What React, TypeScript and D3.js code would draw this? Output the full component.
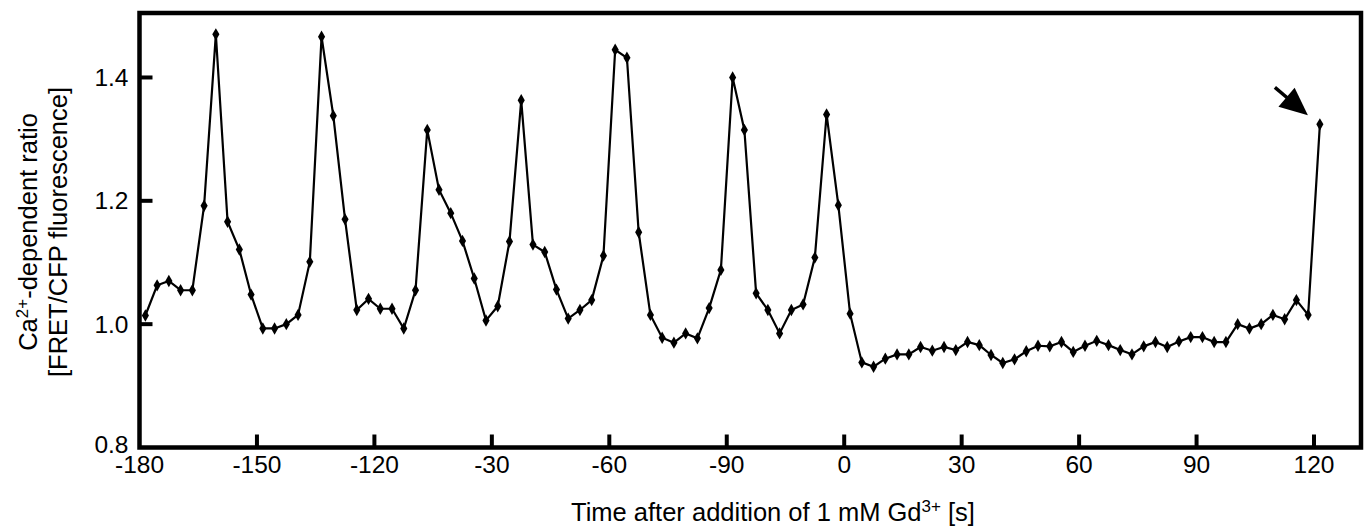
import React from "react"
import * as d3 from "d3"

// sample times (s), one reading every 3 s
const times = [
  -178.5, -175.5, -172.5, -169.5, -166.5, -163.5, -160.5, -157.5, -154.5, -151.5,
  -148.5, -145.5, -142.5, -139.5, -136.5, -133.5, -130.5, -127.5, -124.5, -121.5,
  -118.5, -115.5, -112.5, -109.5, -106.5, -103.5, -100.5, -97.5, -94.5, -91.5,
  -88.5, -85.5, -82.5, -79.5, -76.5, -73.5, -70.5, -67.5, -64.5, -61.5,
  -58.5, -55.5, -52.5, -49.5, -46.5, -43.5, -40.5, -37.5, -34.5, -31.5,
  -28.5, -25.5, -22.5, -19.5, -16.5, -13.5, -10.5, -7.5, -4.5, -1.5,
  1.5, 4.5, 7.5, 10.5, 13.5, 16.5, 19.5, 22.5, 25.5, 28.5,
  31.5, 34.5, 37.5, 40.5, 43.5, 46.5, 49.5, 52.5, 55.5, 58.5,
  61.5, 64.5, 67.5, 70.5, 73.5, 76.5, 79.5, 82.5, 85.5, 88.5,
  91.5, 94.5, 97.5, 100.5, 103.5, 106.5, 109.5, 112.5, 115.5, 118.5,
  121.5,
]

// FRET/CFP ratio
const ratios = [
  1.014, 1.063, 1.070, 1.055, 1.055, 1.192, 1.470, 1.166, 1.121, 1.048,
  0.993, 0.993, 1.000, 1.015, 1.101, 1.466, 1.338, 1.170, 1.023, 1.041,
  1.025, 1.025, 0.993, 1.055, 1.315, 1.218, 1.180, 1.135, 1.074, 1.006,
  1.029, 1.134, 1.363, 1.129, 1.117, 1.056, 1.009, 1.023, 1.039, 1.111,
  1.445, 1.432, 1.149, 1.015, 0.978, 0.970, 0.985, 0.977, 1.026, 1.088,
  1.400, 1.315, 1.050, 1.023, 0.985, 1.023, 1.032, 1.108, 1.340, 1.193,
  1.017, 0.938, 0.931, 0.944, 0.951, 0.951, 0.963, 0.957, 0.963, 0.958,
  0.971, 0.966, 0.950, 0.937, 0.943, 0.956, 0.965, 0.964, 0.971, 0.955,
  0.965, 0.973, 0.966, 0.958, 0.951, 0.964, 0.971, 0.963, 0.972, 0.979,
  0.979, 0.971, 0.971, 1.000, 0.993, 1.000, 1.015, 1.008, 1.039, 1.015,
  1.324,
]

// tick positions and the labels printed under them (as in the original figure)
const xTicks = [-180, -150, -120, -90, -60, -30, 0, 30, 60, 90, 120]
const xTickLabels = ["-180", "-150", "-120", "-30", "-60", "-90", "0", "30", "60", "90", "120"]
const yTicks = [0.8, 1.0, 1.2, 1.4]
const yTickLabels = ["0.8", "1.0", "1.2", "1.4"]

const W = 1367
const H = 531
const margin = { top: 13, right: 6, bottom: 83.5, left: 139.5 }
const font = "'Liberation Sans', Arial, Helvetica, sans-serif"

export default function App() {
  const x = d3.scaleLinear().domain([-180, 132]).range([margin.left, W - margin.right])
  const y = d3.scaleLinear().domain([0.8, 1.5]).range([H - margin.bottom, margin.top + 2.8])

  const pts = times.map((t, i) => ({ t, v: ratios[i] }))
  const line = d3.line<{ t: number; v: number }>()
    .x(d => x(d.t))
    .y(d => y(d.v))
  const diamond = d3.symbol().type(d3.symbolDiamond).size(44)()

  const x0 = x(-180), x1 = x(132)
  const yBottom = y(0.8), yTop = margin.top

  // arrow pointing at the last reading
  const last = pts[pts.length - 1]
  const tipX = x(last.t) - 12, tipY = y(last.v) - 9
  const tailX = tipX - 33, tailY = tipY - 28
  const len = Math.hypot(tipX - tailX, tipY - tailY)
  const ux = (tipX - tailX) / len, uy = (tipY - tailY) / len
  const headL = 28, headW = 12.5
  const bx = tipX - ux * headL, by = tipY - uy * headL
  const head = [
    [tipX, tipY],
    [bx - uy * headW, by + ux * headW],
    [bx + uy * headW, by - ux * headW],
  ].map(p => p.join(",")).join(" ")

  return (
    <svg width={W} height={H} style={{ position: "absolute", left: 0, top: 0, background: "#fff" }}
      fontFamily={font}>
      {/* frame */}
      <rect x={x0} y={yTop} width={x1 - x0} height={yBottom - yTop}
        fill="none" stroke="#000" strokeWidth={4.5} />

      {/* x ticks */}
      {xTicks.map((t, i) => (
        <g key={"xt" + i}>
          {i > 0 && <line x1={x(t)} x2={x(t)} y1={yBottom} y2={yBottom - 13} stroke="#000" strokeWidth={4} />}
          <text x={x(t)} y={yBottom + 25} textAnchor="middle" fontSize={24.5}>{xTickLabels[i]}</text>
        </g>
      ))}

      {/* y ticks */}
      {yTicks.map((v, i) => (
        <g key={"yt" + i}>
          {i > 0 && <line x1={x0} x2={x0 + 13} y1={y(v)} y2={y(v)} stroke="#000" strokeWidth={4} />}
          <text x={x0 - 11} y={y(v) - (i === 0 ? 3 : 0)} dy="0.35em" textAnchor="end" fontSize={24.5}>{yTickLabels[i]}</text>
        </g>
      ))}

      {/* trace */}
      <path d={line(pts) || ""} fill="none" stroke="#000" strokeWidth={2.2} />
      {pts.map((d, i) => (
        <path key={"p" + i} d={diamond || ""} transform={`translate(${x(d.t)},${y(d.v)})`} fill="#000" />
      ))}

      {/* arrow */}
      <line x1={tailX} y1={tailY} x2={bx + ux * 2} y2={by + uy * 2} stroke="#000" strokeWidth={3.5} />
      <polygon points={head} fill="#000" />

      {/* axis titles */}
      <text x={773} y={521} textAnchor="middle" fontSize={25.5}>
        Time after addition of 1 mM Gd<tspan dy={-9} fontSize={17}>3+</tspan><tspan dy={9}> [s]</tspan>
      </text>
      <g transform="translate(37,232) rotate(-90)">
        <text x={0} y={0} textAnchor="middle" fontSize={25.5}>
          Ca<tspan dy={-9} fontSize={17}>2+</tspan><tspan dy={9}>-dependent ratio</tspan>
        </text>
      </g>
      <g transform="translate(67,232) rotate(-90)">
        <text x={0} y={0} textAnchor="middle" fontSize={25.5}>[FRET/CFP fluorescence]</text>
      </g>
    </svg>
  )
}
